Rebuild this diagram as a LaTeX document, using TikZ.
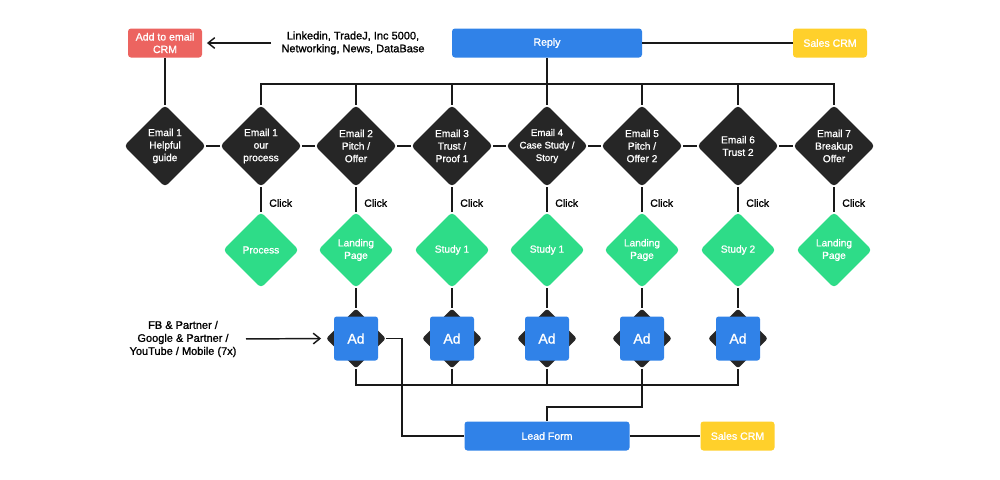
\documentclass[tikz,border=0pt]{standalone}
\usepackage{fontspec}
\setmainfont{Liberation Sans}[FakeBold=1.2]
\usetikzlibrary{shapes.geometric,arrows.meta}
\definecolor{cred}{HTML}{EC6460}
\definecolor{cblue}{HTML}{3082E8}
\definecolor{cyel}{HTML}{FFD02B}
\definecolor{cgreen}{HTML}{2EDC88}
\definecolor{cdark}{HTML}{262626}
\tikzset{
  box/.style={rectangle, rounded corners=2.25pt, minimum height=21.75pt, inner sep=0pt, text=white, font=\fontsize{7.9}{9.4}\selectfont, align=center},
  edia/.style={diamond, fill=cdark, minimum width=61.5pt, minimum height=61.5pt, inner sep=0pt, rounded corners=3pt},
  etext/.style={text=white, align=center, inner sep=0pt, font=\fontsize{7.6}{9.4}\selectfont},
  gdia/.style={diamond, fill=cgreen, minimum width=57pt, minimum height=57pt, inner sep=0pt, rounded corners=3pt},
  addia/.style={diamond, fill=cdark, minimum width=45pt, minimum height=45pt, inner sep=0pt, rounded corners=2pt},
  adbox/.style={rectangle, fill=cblue, minimum size=33pt, inner sep=0pt, rounded corners=2pt, text=white, font=\fontsize{10.5}{12}\selectfont},
  plain/.style={align=center, inner sep=0pt, font=\fontsize{8.25}{9.6}\selectfont},
  clk/.style={anchor=west, inner sep=0pt, font=\fontsize{7.9}{9.4}\selectfont},
  link/.style={line width=1.1pt, draw=black!90},
  arr/.style={link, -{Straight Barb[length=5pt,width=8pt]}}
}
\begin{document}
\begin{tikzpicture}[x=0.75pt,y=-0.75pt]
\useasboundingbox (0,0) rectangle (1000,479);
% top boxes
\node[box, fill=cred, minimum width=55.5pt] (crm) at (165,43) {Add to email\\CRM};
\node[box, fill=cblue, minimum width=142.5pt] (reply) at (547,43) {Reply};
\node[box, fill=cyel, minimum width=55.5pt] (sales1) at (830,43) {Sales CRM};
\node[plain] (src) at (353,43) {Linkedin, TradeJ, Inc 5000,\\Networking, News, DataBase};
% email diamonds
\foreach \i/\x in {1/165,2/261,3/356,4/452,5/547,6/642,7/738,8/834}
  \node[edia] (e\i) at (\x,146) {};
\node[etext] at (e1) {Email 1\\Helpful\\guide};
\node[etext] at (e2) {Email 1\\our\\process};
\node[etext] at (e3) {Email 2\\Pitch /\\Offer};
\node[etext] at (e4) {Email 3\\Trust /\\Proof 1};
\node[etext, font=\fontsize{7.2}{9.4}\selectfont] at (e5) {Email 4\\Case Study /\\Story};
\node[etext] at (e6) {Email 5\\Pitch /\\Offer 2};
\node[etext] at (e7) {Email 6\\Trust 2};
\node[etext] at (e8) {Email 7\\Breakup\\Offer};
% green diamonds
\foreach \i/\x in {2/261,3/356,4/452,5/547,6/642,7/738,8/834}
  \node[gdia] (g\i) at (\x,250) {};
\node[etext] at (g2) {Process};
\node[etext] at (g3) {Landing\\Page};
\node[etext] at (g4) {Study 1};
\node[etext] at (g5) {Study 1};
\node[etext] at (g6) {Landing\\Page};
\node[etext] at (g7) {Study 2};
\node[etext] at (g8) {Landing\\Page};
% click labels
\foreach \x in {261,356,452,547,642,738,834}
  \node[clk] at (\x+8,203) {Click};
% ads
\foreach \i/\x in {1/356,2/452,3/547,4/642,5/738}{
  \node[addia] (ad\i d) at (\x,338.5) {};
  \node[adbox] (ad\i) at (\x,338.5) {Ad};
}
\node[plain, font=\fontsize{8.25}{9.75}\selectfont] (fb) at (183,339) {FB \& Partner /\\Google \& Partner /\\YouTube / Mobile (7x)};
% bottom boxes
\node[box, fill=cblue, minimum width=123.75pt] (lead) at (547,436) {Lead Form};
\node[box, fill=cyel, minimum width=55.5pt] (sales2) at (737.5,436) {Sales CRM};
% coordinates
\coordinate (bus) at (547,84);
\coordinate (adbus) at (547,385);
\coordinate (lfk) at (547,407);
\coordinate (adj) at (402,436);
% connectors
\draw[arr, shorten <=7.5pt, shorten >=3.5pt] (src.west) -- (crm.east);
\draw[link] (reply.east) -- (sales1.west);
\draw[link] (crm.south) -- (e1.north);
\draw[link] (reply.south) -- (reply.south |- bus);
\draw[link] (e2.north) -- (e2.north |- bus) -- (e8.north |- bus) -- (e8.north);
\foreach \i in {3,4,5,6,7}
  \draw[link] (e\i.north) -- (e\i.north |- bus);
\foreach \a/\b in {1/2,2/3,3/4,4/5,5/6,6/7,7/8}
  \draw[link] (e\a) -- (e\b);
\foreach \i in {2,...,8}
  \draw[link] (e\i) -- (g\i);
\foreach \g/\a in {3/1,4/2,5/3,6/4,7/5}
  \draw[link] (g\g) -- (ad\a d);
\draw[link] (ad1d.south) -- (ad1d.south |- adbus) -- (ad5d.south |- adbus) -- (ad5d.south);
\foreach \i in {2,3}
  \draw[link] (ad\i d.south) -- (ad\i d.south |- adbus);
\draw[link] (ad4d.south) |- (lfk) -- (lead.north);
\draw[link] (ad1d.east) -| (adj) -- (lead.west);
\draw[link] (lead.east) -- (sales2.west);
\draw[arr, shorten <=7pt, shorten >=3.5pt] (fb.east) -- (ad1d.west);
\end{tikzpicture}
\end{document}
